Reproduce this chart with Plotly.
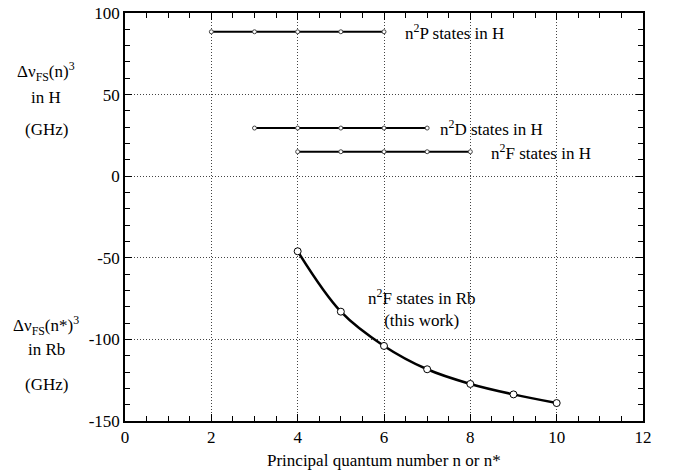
import plotly.graph_objects as go

# Data
p_n = [2, 3, 4, 5, 6]
p_val = [88.5, 88.5, 88.5, 88.5, 88.5]
d_n = [3, 4, 5, 6, 7]
d_val = [29.5, 29.5, 29.5, 29.5, 29.5]
fh_n = [4, 5, 6, 7, 8]
fh_val = [15.0, 15.0, 15.0, 15.0, 15.0]
rb_n = [4, 5, 6, 7, 8, 9, 10]
rb_val = [-46, -83, -104, -118.3, -127.3, -133.7, -139]
x_ticks = [0, 2, 4, 6, 8, 10, 12]
y_ticks = [-150, -100, -50, 0, 50, 100]

FONT = "Liberation Serif"
fig = go.Figure()

for xs, ys in [(p_n, p_val), (d_n, d_val), (fh_n, fh_val)]:
    fig.add_trace(go.Scatter(x=xs, y=ys, mode="lines+markers",
                             line=dict(color="black", width=2),
                             marker=dict(symbol="circle", size=4, color="white",
                                         line=dict(color="#444", width=1)),
                             showlegend=False, hoverinfo="skip"))

fig.add_trace(go.Scatter(x=rb_n, y=rb_val, mode="lines+markers",
                         line=dict(color="black", width=2.5, shape="spline"),
                         marker=dict(symbol="circle", size=7, color="white",
                                     line=dict(color="black", width=1)),
                         showlegend=False, hoverinfo="skip"))

tickfont = dict(family=FONT, size=17, color="black")
fig.update_xaxes(range=[0, 12], tickvals=x_ticks,
                 showgrid=True, gridcolor="#444", griddash="1px,2px", gridwidth=1,
                 zeroline=False, showline=True, linecolor="black", linewidth=1.5,
                 mirror="allticks", ticks="inside", ticklen=7, tickcolor="black",
                 minor=dict(dtick=0.5, ticks="inside", ticklen=5, tickcolor="black", showgrid=False),
                 tickfont=tickfont, automargin=False, ticklabeloverflow="allow")
fig.update_yaxes(range=[-150, 100], tickvals=y_ticks,
                 ticktext=[str(v) for v in y_ticks],
                 showgrid=True, gridcolor="#444", griddash="1px,2px", gridwidth=1,
                 zeroline=False, showline=True, linecolor="black", linewidth=1.5,
                 mirror="allticks", ticks="inside", ticklen=7, tickcolor="black",
                 minor=dict(dtick=10, ticks="inside", ticklen=5, tickcolor="black", showgrid=False),
                 tickfont=tickfont, automargin=False, ticklabeloverflow="allow")

ann_font = dict(family=FONT, size=17, color="black")
anns = [
    dict(x=6.45, y=88.5, text="n<sup>2</sup>P states in H", xanchor="left"),
    dict(x=7.25, y=29.5, text="n<sup>2</sup>D states in H", xanchor="left"),
    dict(x=8.43, y=15, text="n<sup>2</sup>F states in H", xanchor="left"),
]
for a in anns:
    fig.add_annotation(xref="x", yref="y", showarrow=False, yanchor="middle",
                       font=ann_font, **a)
fig.add_annotation(xref="x", yref="y", x=6.88, y=-80.5, showarrow=False,
                   text="n<sup>2</sup>F states in Rb<br>(this work)", align="center",
                   xanchor="center", yanchor="middle", font=ann_font)

# left labels (vertical positions in page pixels)
left_labels = [
    ("Δν<sub>FS</sub>(n)<sup>3</sup>", 71),
    ("in H", 97),
    ("(GHz)", 129),
    ("Δν<sub>FS</sub>(n*)<sup>3</sup>", 325),
    ("in Rb", 349),
    ("(GHz)", 384),
]
for txt, py in left_labels:
    fig.add_annotation(xref="paper", yref="paper", x=(46 - 125) / 518, y=(421 - py) / (421 - 13),
                       text=txt, showarrow=False, xanchor="center", yanchor="middle",
                       font=ann_font)

fig.add_annotation(xref="paper", yref="paper", x=0.5, y=(421 - 460) / 408,
                   text="Principal quantum number n or n*", showarrow=False,
                   xanchor="center", yanchor="middle",
                   font=dict(family=FONT, size=17, color="black"))

fig.update_layout(width=675, height=474, plot_bgcolor="white", paper_bgcolor="white",
                  font=dict(family=FONT),
                  margin=dict(l=125, r=32, t=13, b=53, autoexpand=False))
fig.write_html("out.html", config={"displayModeBar": False},
               post_script="document.body.style.margin='0';")
